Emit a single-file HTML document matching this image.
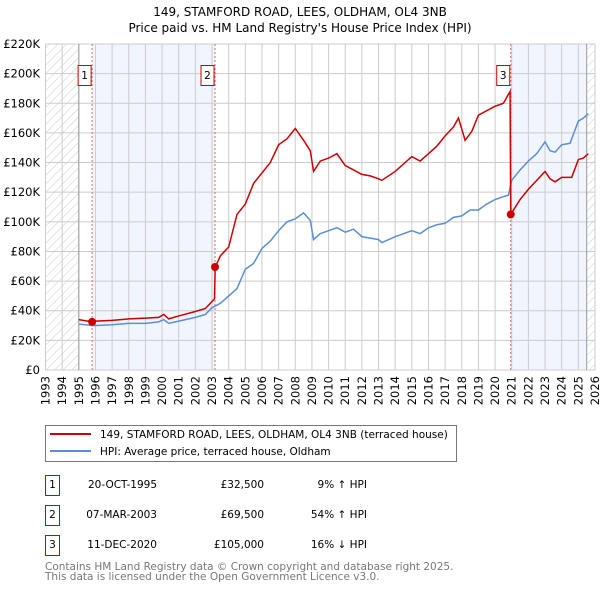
<!DOCTYPE html>
<html><head><meta charset="utf-8"><style>
body{margin:0;background:#fff;font-family:"DejaVu Sans","Liberation Sans",sans-serif;}
svg{display:block}
</style></head><body>
<svg id="c" width="600" height="590" xmlns="http://www.w3.org/2000/svg" font-family="DejaVu Sans, Liberation Sans, sans-serif">
<text x="300" y="16" text-anchor="middle" font-size="12">149, STAMFORD ROAD, LEES, OLDHAM, OL4 3NB</text>
<text x="300" y="32" text-anchor="middle" font-size="12">Price paid vs. HM Land Registry's House Price Index (HPI)</text>
<defs><pattern id="hatch" width="6" height="6" patternUnits="userSpaceOnUse" patternTransform="rotate(45)"><line x1="0" y1="0" x2="0" y2="6" stroke="#ccc" stroke-width="1"/></pattern></defs>
<g id="plot"></g>
<g>
<rect x="45.5" y="425.5" width="411" height="36" fill="#fff" stroke="#777"/>
<line x1="50" y1="434" x2="91" y2="434" stroke="#cc0000" stroke-width="2"/>
<text x="100" y="438" font-size="10.5">149, STAMFORD ROAD, LEES, OLDHAM, OL4 3NB (terraced house)</text>
<line x1="50" y1="451" x2="91" y2="451" stroke="#5b8fd4" stroke-width="2"/>
<text x="100" y="455" font-size="10.5">HPI: Average price, terraced house, Oldham</text>
</g>
<g font-size="10.5">
<rect x="45.5" y="475.5" width="14" height="20" fill="none" stroke="#cc0000"/><text x="52.5" y="488" text-anchor="middle">1</text>
<text x="157" y="488" text-anchor="end">20-OCT-1995</text>
<text x="264" y="488" text-anchor="end">£32,500</text>
<text x="367" y="488" text-anchor="end">9% ↑ HPI</text>
<rect x="45.5" y="505.5" width="14" height="20" fill="none" stroke="#cc0000"/><text x="52.5" y="518" text-anchor="middle">2</text>
<text x="157" y="518" text-anchor="end">07-MAR-2003</text>
<text x="264" y="518" text-anchor="end">£69,500</text>
<text x="367" y="518" text-anchor="end">54% ↑ HPI</text>
<rect x="45.5" y="535.5" width="14" height="20" fill="none" stroke="#cc0000"/><text x="52.5" y="548" text-anchor="middle">3</text>
<text x="157" y="548" text-anchor="end">11-DEC-2020</text>
<text x="264" y="548" text-anchor="end">£105,000</text>
<text x="367" y="548" text-anchor="end">16% ↓ HPI</text>
</g>
<text x="45" y="570" font-size="10.5" fill="#777">Contains HM Land Registry data © Crown copyright and database right 2025.</text>
<text x="45" y="580" font-size="10.5" fill="#777">This data is licensed under the Open Government Licence v3.0.</text>
</svg>
<script>
const yTicks=[0,20000,40000,60000,80000,100000,120000,140000,160000,180000,200000,220000];
const yTickLabels=["£0","£20K","£40K","£60K","£80K","£100K","£120K","£140K","£160K","£180K","£200K","£220K"];
const xYears=[1993,1994,1995,1996,1997,1998,1999,2000,2001,2002,2003,2004,2005,2006,2007,2008,2009,2010,2011,2012,2013,2014,2015,2016,2017,2018,2019,2020,2021,2022,2023,2024,2025,2026];
const hpiT=[1995,1995.8,1996,1997,1998,1999,1999.8,2000.1,2000.4,2001,2002,2002.6,2003,2003.5,2004,2004.5,2005,2005.5,2006,2006.5,2007,2007.5,2008,2008.5,2008.9,2009.1,2009.5,2010,2010.5,2011,2011.5,2012,2012.5,2013,2013.2,2014,2015,2015.5,2016,2016.5,2017,2017.5,2018,2018.5,2019,2019.5,2020,2020.5,2020.8,2021,2021.5,2022,2022.5,2023,2023.3,2023.6,2024,2024.5,2025,2025.3,2025.6];
const hpiV=[31000,30000,30000,30500,31500,31500,32500,34000,31500,33000,35500,37500,42000,45000,50000,55000,68000,72000,82000,87000,94000,100000,102000,106000,101000,88000,92000,94000,96000,93000,95000,90000,89000,88000,86000,90000,94000,92000,96000,98000,99000,103000,104000,108000,108000,112000,115000,117000,118000,128000,135000,141000,146000,154000,148000,147000,152000,153000,168000,170000,173000];
const priceT=[1995,1995.8,1996,1997,1998,1999,1999.8,2000.1,2000.4,2001,2002,2002.6,2003.15,2003.19,2003.5,2004,2004.5,2005,2005.5,2006,2006.5,2007,2007.5,2008,2008.5,2008.9,2009.1,2009.5,2010,2010.5,2011,2011.5,2012,2012.5,2013,2013.2,2014,2015,2015.5,2016,2016.5,2017,2017.5,2017.8,2018.2,2018.6,2019,2019.5,2020,2020.5,2020.9,2020.94,2021.5,2022,2022.5,2023,2023.3,2023.6,2024,2024.6,2025,2025.3,2025.6];
const priceV=[34000,32500,33000,33500,34500,35000,35500,37500,34500,36500,39500,41500,48000,69500,77000,83000,105000,112000,126000,133000,140000,152000,156000,163000,155000,148000,134000,141000,143000,146000,138000,135000,132000,131000,129000,128000,134000,144000,141000,146000,151000,158000,164000,170000,155000,161000,172000,175000,178000,180000,188000,105000,115000,122000,128000,134000,129000,127000,130000,130000,142000,143000,146000];
const salesT=[1995.8,2003.18,2020.94];
const salesV=[32500,69500,105000];
const salesLabels=["1","2","3"];
const X0=45.5,X1=595,Y0=370,Y1=44;
const x=t=>X0+(t-1993)*(X1-X0)/33;
const y=v=>Y0-v*(Y0-Y1)/220000;
const NS="http://www.w3.org/2000/svg";
const g=document.getElementById('plot');
function mk(tag,attrs,parent){const e=document.createElementNS(NS,tag);for(const k in attrs)e.setAttribute(k,attrs[k]);(parent||g).appendChild(e);return e;}
// hatch & shading
let e=mk('rect',{x:x(1993),y:Y1,width:x(1995)-x(1993),height:Y0-Y1,fill:'url(#hatch)'});


e=mk('rect',{x:x(2025.5),y:Y1,width:X1-x(2025.5),height:Y0-Y1,fill:'url(#hatch)'});


e=mk('rect',{x:x(salesT[0]),y:Y1,width:x(salesT[1])-x(salesT[0]),height:Y0-Y1,fill:'#eef3fc',opacity:0.8});


e=mk('rect',{x:x(salesT[2]),y:Y1,width:x(2025.5)-x(salesT[2]),height:Y0-Y1,fill:'#eef3fc',opacity:0.8});


// grid
yTicks.forEach((v,i)=>{
 const l=mk('line',{x1:X0,x2:X1,y1:y(v),y2:y(v),stroke:'#ccc','stroke-width':1});
 
 
 const t=mk('text',{x:40,y:y(v)+4,'text-anchor':'end','font-size':11.5});
 t.textContent=yTickLabels[i];
 
 
});
xYears.forEach(yr=>{
 const l=mk('line',{x1:x(yr),x2:x(yr),y1:Y1,y2:Y0,stroke:'#ccc','stroke-width':1});
 
 
 const t=mk('text',{x:0,y:0,'text-anchor':'end','font-size':11.5,transform:`translate(${x(yr)+4},${Y0+6}) rotate(-90)`});
 t.textContent=yr;
 
 
});
e=mk('line',{x1:x(1995),x2:x(1995),y1:Y1,y2:Y0,stroke:'#999'});


e=mk('line',{x1:x(2025.5),x2:x(2025.5),y1:Y1,y2:Y0,stroke:'#999'});


// sale vlines
salesT.forEach((t,i)=>{
 const l=mk('line',{x1:x(t),x2:x(t),y1:Y1,y2:Y0,stroke:'#e06666','stroke-dasharray':'2,2','stroke-width':1});
 
 
});
// series
e=mk('polyline',{points:hpiT.map((t,i)=>x(t)+','+y(hpiV[i])).join(' '),fill:'none',stroke:'#5b8fd4','stroke-width':1.5});


e=mk('polyline',{points:priceT.map((t,i)=>x(t)+','+y(priceV[i])).join(' '),fill:'none',stroke:'#cc0000','stroke-width':1.5});


salesT.forEach((t,i)=>{
 const c=mk('circle',{cx:x(t),cy:y(salesV[i]),r:4,fill:'#cc0000'});
 
 
 const bx=x(t)-14;
 const r=mk('rect',{x:bx,y:65.5,width:13,height:20,fill:'#fff',stroke:'#cc0000'});
 
 
 const tx=mk('text',{x:bx+6.5,y:79,'text-anchor':'middle','font-size':10.5});
 tx.textContent=salesLabels[i];
 
 
});
</script>
</body></html>
